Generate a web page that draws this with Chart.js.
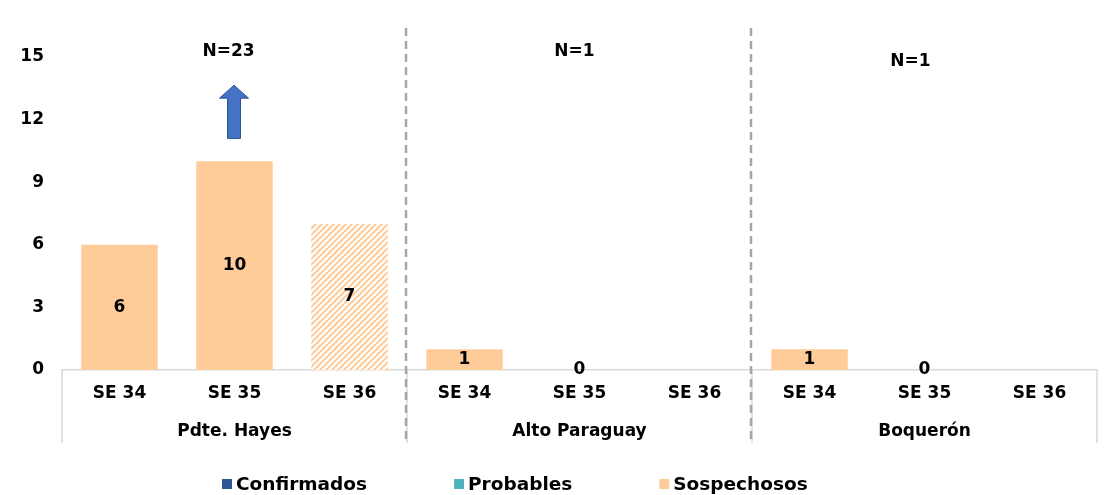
<!DOCTYPE html>
<html><head><meta charset="utf-8">
<script src="https://cdn.jsdelivr.net/npm/chart.js@4.4.0/dist/chart.umd.min.js"></script>
<style>html,body{margin:0;padding:0;background:#fff;}#wrap{width:1107px;height:495px;}</style>
</head><body><div id="wrap"><canvas id="c" width="1107" height="495"></canvas></div>
<script>
const weeks = ["SE 34","SE 35","SE 36","SE 34","SE 35","SE 36","SE 34","SE 35","SE 36"];
const departments = ["Pdte. Hayes","Alto Paraguay","Boquerón"];
const totalsN = ["N=23","N=1","N=1"];
const confirmados = [0,0,0,0,0,0,0,0,0];
const probables = [0,0,0,0,0,0,0,0,0];
const sospechosos = [6,10,7,1,0,null,1,0,null];
const incomplete = [false,false,true,false,false,false,false,false,false];
const yTicks = [0,3,6,9,12,15];

const FONT = "'DejaVu Sans', sans-serif";
const C_CONF = '#2F5597', C_PROB = '#4FB3BF', C_SOSP = '#FFCC99';

const canvas = document.getElementById('c');
const ctx0 = canvas.getContext('2d');
function hatch(color){
  const c=document.createElement('canvas'); c.width=6; c.height=6;
  const g=c.getContext('2d');
  g.fillStyle='#fff'; g.fillRect(0,0,6,6);
  g.strokeStyle=color; g.lineWidth=2;
  g.beginPath();
  g.moveTo(-1,7); g.lineTo(7,-1);
  g.moveTo(-4,4); g.lineTo(4,-4);
  g.moveTo(2,10); g.lineTo(10,2);
  g.stroke();
  return ctx0.createPattern(c,'repeat');
}
const sospColors = incomplete.map(f => f ? hatch(C_SOSP) : C_SOSP);

const overlay = {
  id:'overlay',
  afterDatasetsDraw(chart){
    const ctx = chart.ctx;
    const meta = chart.getDatasetMeta(2);
    ctx.save();
    ctx.font = "bold 17px " + FONT;
    ctx.fillStyle = '#000';
    ctx.textAlign = 'center'; ctx.textBaseline = 'middle';
    meta.data.forEach((el,i)=>{
      const v = chart.data.datasets[2].data[i];
      if (v === null || v === undefined) return;
      const p = el.getCenterPoint();
      ctx.fillText(String(v), p.x, p.y);
    });
    ctx.restore();
  },
  afterDraw(chart){
    const ctx = chart.ctx, xs = chart.scales.x, ys = chart.scales.y;
    const ca = chart.chartArea;
    ctx.save();
    // axis box verticals
    ctx.strokeStyle = '#D9D9D9'; ctx.lineWidth = 1.5;
    const step = (xs.getPixelForValue(1) - xs.getPixelForValue(0));
    const bounds = [0,3,6,9].map(k => xs.getPixelForValue(0) - step/2 + k*step);
    bounds.forEach(b=>{ ctx.beginPath(); ctx.moveTo(b, ca.bottom); ctx.lineTo(b, ca.bottom+73); ctx.stroke(); });
    // dashed separators
    ctx.strokeStyle = '#A6A6A6'; ctx.lineWidth = 2.5; ctx.setLineDash([8,5]);
    [bounds[1], bounds[2]].forEach(b=>{ ctx.beginPath(); ctx.moveTo(b-1, 28); ctx.lineTo(b-1, 442); ctx.stroke(); });
    ctx.setLineDash([]);
    // N labels
    ctx.font = "bold 17px " + FONT; ctx.fillStyle = '#000';
    ctx.textAlign='center'; ctx.textBaseline='middle';
    const nPos = [[1, 15.28, -6],[4, 15.28, -5],[7, 14.76, -14]];
    totalsN.forEach((t,i)=>{
      const [cat, val, dx] = nPos[i];
      ctx.fillText(t, xs.getPixelForValue(cat)+dx, ys.getPixelForValue(val));
    });
    // arrow
    const ax = xs.getPixelForValue(1)-0.5, tip = ys.getPixelForValue(13.65), base = ys.getPixelForValue(11.1);
    const headH = 13, headW = 29, shaftW = 13;
    ctx.beginPath();
    ctx.moveTo(ax, tip);
    ctx.lineTo(ax+headW/2, tip+headH);
    ctx.lineTo(ax+shaftW/2, tip+headH);
    ctx.lineTo(ax+shaftW/2, base);
    ctx.lineTo(ax-shaftW/2, base);
    ctx.lineTo(ax-shaftW/2, tip+headH);
    ctx.lineTo(ax-headW/2, tip+headH);
    ctx.closePath();
    ctx.fillStyle = '#4472C4'; ctx.fill();
    ctx.strokeStyle = '#2F528F'; ctx.lineWidth = 1; ctx.stroke();
    // legend
    ctx.font = "bold 18.5px " + FONT; ctx.textAlign='left'; ctx.textBaseline='middle';
    const ly = 484; let lx = 222;
    chart.data.datasets.forEach(ds=>{
      ctx.fillStyle = ds.legendColor; ctx.fillRect(lx, ly-5, 10, 10);
      ctx.fillStyle = '#000'; ctx.fillText(ds.label, lx+14, ly+1);
      lx += 14 + ctx.measureText(ds.label).width + 87;
    });
    ctx.restore();
  }
};

new Chart(canvas, {
  type:'bar',
  data:{
    labels: weeks,
    datasets:[
      {label:'Confirmados', data:confirmados, backgroundColor:C_CONF, legendColor:C_CONF},
      {label:'Probables', data:probables, backgroundColor:C_PROB, legendColor:C_PROB},
      {label:'Sospechosos', data:sospechosos, backgroundColor:sospColors, legendColor:C_SOSP}
    ]
  },
  options:{
    responsive:false, animation:false, devicePixelRatio:1,
    layout:{padding:{top:57,right:10,left:0,bottom:45}},
    datasets:{bar:{categoryPercentage:1, barPercentage:0.665, borderWidth:0}},
    plugins:{legend:{display:false}, tooltip:{enabled:false}},
    scales:{
      x:{stacked:true, grid:{display:false, drawTicks:false}, border:{color:'#D9D9D9', width:1.5},
         ticks:{padding:13, color:'#000', font:{family:FONT, size:17, weight:'bold'}},
         afterFit(s){ s.height = 40; }},
      x2:{type:'category', labels:departments, position:'bottom', offset:true,
         grid:{display:false, drawTicks:false}, border:{display:false},
         ticks:{padding:11, color:'#000', font:{family:FONT, size:17, weight:'bold'}},
         afterFit(s){ s.height = 40; }},
      y:{stacked:true, min:0, max:15, grid:{display:false, drawTicks:false}, border:{display:false},
         afterBuildTicks(s){ s.ticks = yTicks.map(v=>({value:v})); },
         ticks:{padding:18, color:'#000', font:{family:FONT, size:17, weight:'bold'}},
         afterFit(s){ s.width = 62; }}
    }
  },
  plugins:[overlay]
});
</script></body></html>
